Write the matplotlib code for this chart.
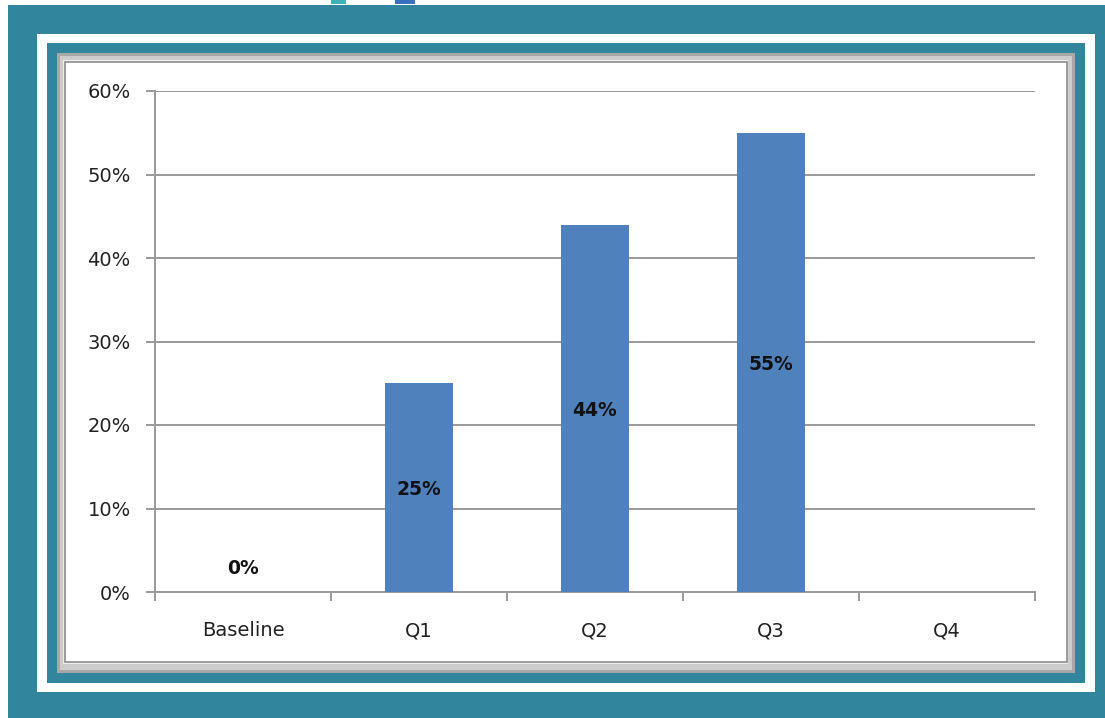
import numpy as np
import matplotlib.pyplot as plt
from matplotlib.patches import Rectangle

categories = ["Baseline", "Q1", "Q2", "Q3", "Q4"]
values = [0, 25, 44, 55, None]
labels = ["0%", "25%", "44%", "55%", ""]
yticks = [0, 10, 20, 30, 40, 50, 60]

W, H = 1105, 718
teal = "#31859c"
bar_color = "#4f81bd"
grid_color = "#999999"
font = "DejaVu Sans"


def px_rect(fig, x0, y0, x1, y1, **kw):
    # rectangle in pixel coordinates measured from the top-left corner
    fig.patches.append(Rectangle((x0 / W, 1 - y1 / H), (x1 - x0) / W, (y1 - y0) / H,
                                 transform=fig.transFigure, figure=fig, zorder=-5, **kw))


def main():
    fig = plt.figure(figsize=(W / 100, H / 100), dpi=100)
    fig.patch.set_facecolor("white")

    # frames
    px_rect(fig, 8, 5, W, H, facecolor=teal, edgecolor="none")
    px_rect(fig, 37, 34, 1095, 692, facecolor="white", edgecolor="none")
    px_rect(fig, 47, 43, 1085, 683, facecolor=teal, edgecolor="none")
    px_rect(fig, 57, 53, 1075, 673, facecolor="#a8a8a8", edgecolor="none")
    px_rect(fig, 60, 56, 1072, 670, facecolor="#cccccc", edgecolor="none")
    px_rect(fig, 63, 60, 1068, 664, facecolor="#eeeeee", edgecolor="none")
    px_rect(fig, 65, 62, 1067, 662, facecolor="white", edgecolor="#8c8c8c", linewidth=1.2)
    # small icons peeking at the top
    px_rect(fig, 331, 0, 346, 4, facecolor="#3bb3b8", edgecolor="none")
    px_rect(fig, 395, 0, 415, 4, facecolor="#3a6fc0", edgecolor="none")

    ax = fig.add_axes([155 / W, 1 - 592 / H, (1035 - 155) / W, (592 - 91) / H])
    ax.set_facecolor("none")
    ax.set_zorder(2)

    x = np.arange(len(categories))
    heights = [v if v is not None else 0 for v in values]
    ax.bar(x, heights, width=0.39, color=bar_color, zorder=3)

    for xi, v, lab in zip(x, values, labels):
        if v is None or lab == "":
            continue
        ypos = v / 2 if v > 0 else 3
        ax.text(xi, ypos, lab, ha="center", va="center_baseline", fontsize=13.5,
                fontweight="bold", color="#111111", family=font, zorder=4)

    ax.set_xlim(-0.5, len(categories) - 0.5)
    ax.set_ylim(0, 60)
    ax.set_yticks(yticks)
    ax.set_yticklabels([f"{t}%" for t in yticks], family=font, fontsize=14, color="#222222")
    ax.yaxis.grid(True, color=grid_color, linewidth=1.4, zorder=0)
    ax.set_axisbelow(True)

    ax.set_xticks(np.arange(-0.5, len(categories)), minor=False)
    ax.set_xticklabels([])
    ax.set_xticks(x, minor=True)
    ax.set_xticklabels(categories, minor=True, family=font, fontsize=14, color="#222222")
    ax.tick_params(axis="x", which="major", length=6.5, width=1.4, color=grid_color, direction="out")
    ax.tick_params(axis="x", which="minor", length=0, pad=21)
    ax.tick_params(axis="y", length=6.5, width=1.4, color=grid_color, pad=11)

    for s in ["top", "right"]:
        ax.spines[s].set_visible(False)
    for s in ["left", "bottom"]:
        ax.spines[s].set_color(grid_color)
        ax.spines[s].set_linewidth(1.4)

    fig.savefig("out.png", dpi=100)


if __name__ == "__main__":
    main()
